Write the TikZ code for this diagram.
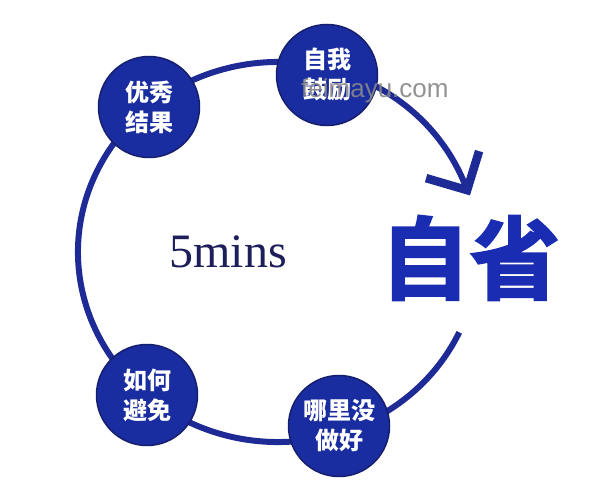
\documentclass[tikz,border=0pt]{standalone}
\usepackage{fontspec}
\setmainfont{Liberation Serif}
\newfontfamily\cjk{Noto Sans CJK SC}
\IfFontExistsTF{Noto Sans CJK SC Bold}
  {\newfontfamily\cjkheavy{Noto Sans CJK SC Bold}[FakeBold=2.5]}
  {\newfontfamily\cjkheavy{Noto Sans CJK SC}[FakeBold=3]}
\newfontfamily\wm{Liberation Sans}
\definecolor{arccol}{RGB}{30,42,150}
\definecolor{circfill}{RGB}{26,45,160}
\definecolor{circline}{RGB}{22,30,110}
\definecolor{minscol}{RGB}{30,30,90}
\definecolor{zxcol}{RGB}{26,45,178}
\tikzset{
  bub/.style={circle,fill=circfill,draw=circline,line width=1.5pt,minimum size=101pt,inner sep=0pt,
    text=white,align=center,font=\cjk\bfseries\fontsize{24}{30}\selectfont},
  ring/.style={draw=arccol,line width=6pt},
  chev/.style={draw=arccol,line width=8.5pt,miter limit=10}
}
\begin{document}
\begin{tikzpicture}[x=1pt,y=-1pt]
\path[fill=white,use as bounding box] (0,0) rectangle (592,492);
\coordinate (c) at (278,252);
\coordinate (start) at ([shift={(25:200 and 190)}]c);
\coordinate (tip) at ([shift={(341:200 and 190)}]c);
\coordinate (armA) at ([shift={(-41,-12)}]tip);
\coordinate (armB) at ([shift={(12,-39)}]tip);
\draw[ring] (start) arc[start angle=25,end angle=341,x radius=200,y radius=190];
\draw[chev] (armA) -- (tip) -- (armB);
\node[bub] (z) at (327,75) {自我\\鼓励};
\node[bub] (y) at (149,107) {优秀\\结果};
\node[bub] (r) at (147,395) {如何\\避免};
\node[bub] (n) at (339,426) {哪里没\\做好};
\node[text=minscol,font=\fontsize{48}{52}\selectfont] (m) at (228,252) {5mins};
\node[text=zxcol,font=\cjkheavy\fontsize{90}{92}\selectfont] (zx) at (470,258) {自省};
\node[anchor=base west,inner sep=0pt,text={rgb,255:red,135;green,135;blue,135},opacity=0.9,font=\wm\fontsize{26}{26}\selectfont] (w) at (301,98) {feimayu.com};
\end{tikzpicture}
\end{document}
